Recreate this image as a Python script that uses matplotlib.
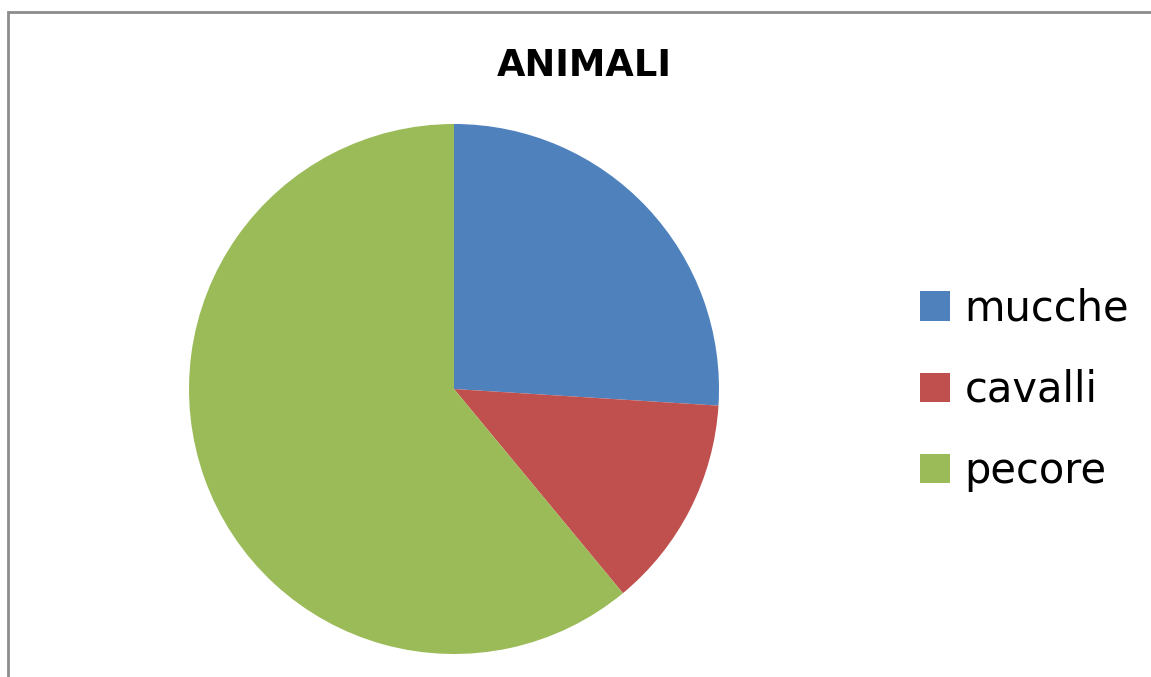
import matplotlib.pyplot as plt
from matplotlib.patches import Patch, Rectangle

plt.rcParams['font.family'] = ['DejaVu Sans']

# dati
categorie = ['mucche', 'cavalli', 'pecore']
valori = [26, 13, 61]
colori = ['#4F81BD', '#C0504D', '#9BBB59']

W, H = 1151, 677
fig = plt.figure(figsize=(W / 100, H / 100), dpi=100)
fig.patch.set_facecolor('white')

# cornice grigia (solo bordo sinistro e superiore visibili)
fig.patches.append(Rectangle((8 / W, -0.1), 1.5, (H - 12) / H + 0.1,
                             transform=fig.transFigure, fill=False,
                             edgecolor='#8c8c8c', linewidth=2))

cx, cy, r = 454, 389, 265
ax = fig.add_axes([(cx - r) / W, (H - cy - r) / H, 2 * r / W, 2 * r / H])
ax.pie(valori, colors=colori, startangle=90, counterclock=False,
       radius=1, wedgeprops=dict(linewidth=0))
ax.set_xlim(-1, 1)
ax.set_ylim(-1, 1)
ax.set_aspect('equal')
ax.axis('off')

fig.text(584 / W, 1 - 65 / H, 'ANIMALI', ha='center', va='center',
         fontsize=26.5, fontweight='bold')

handles = [Patch(facecolor=c, edgecolor='none') for c in colori]
fig.legend(handles, categorie, loc='center left',
           bbox_to_anchor=(903 / W, 1 - 390 / H), frameon=False,
           fontsize=30, handlelength=0.72, handleheight=0.72,
           handletextpad=0.36, labelspacing=0.94, borderaxespad=0)

fig.savefig('out.png', dpi=100, facecolor='white')
